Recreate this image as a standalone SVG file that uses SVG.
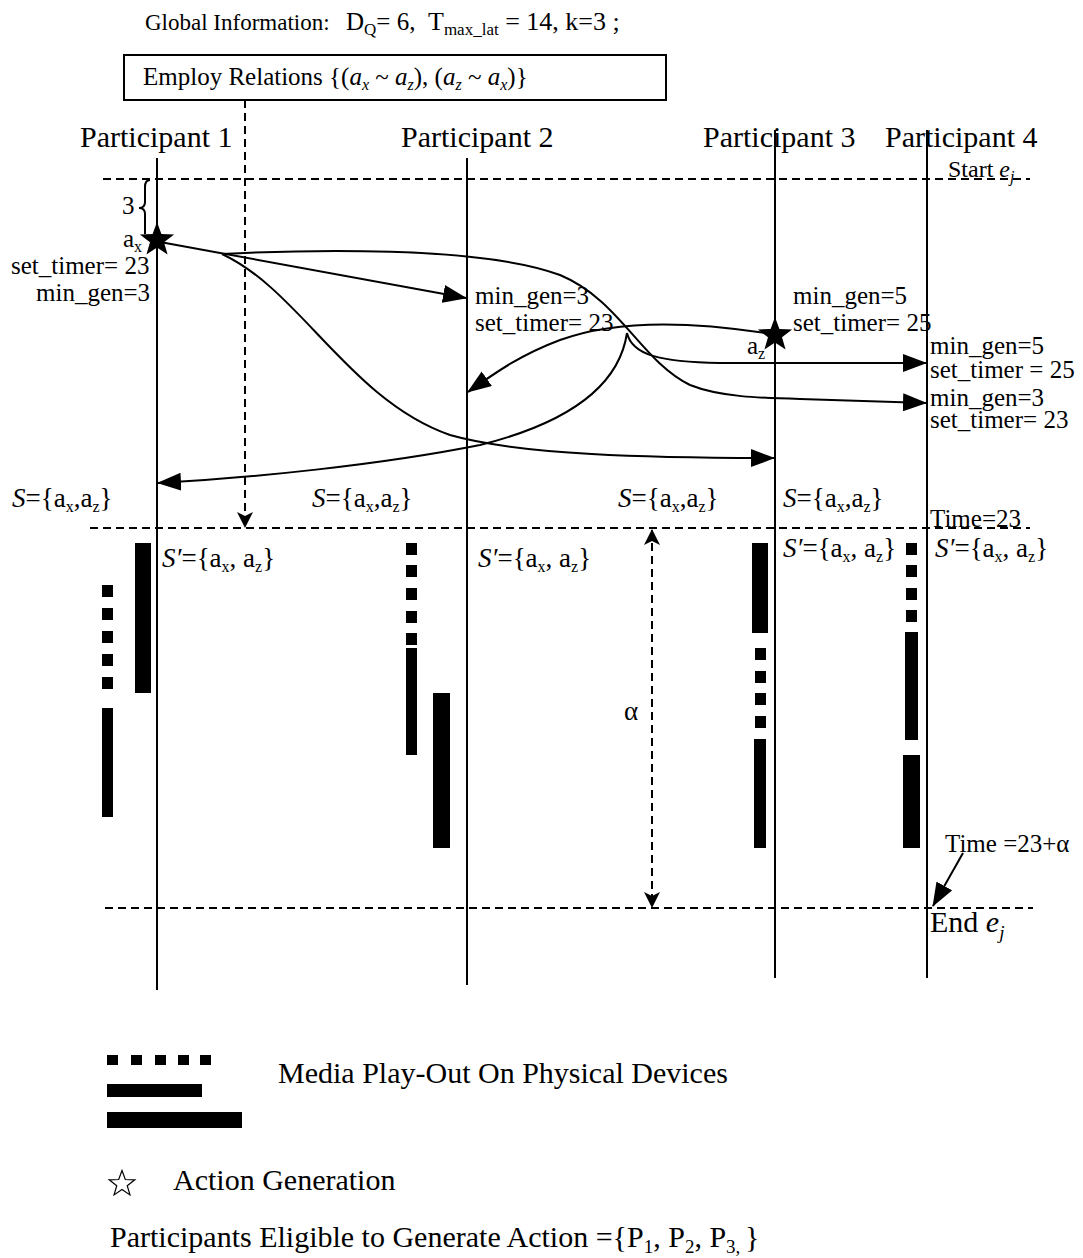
<svg xmlns="http://www.w3.org/2000/svg" xmlns:xlink="http://www.w3.org/1999/xlink" width="1083" height="1258" viewBox="0 0 1083 1258">
<style>
text{font-family:"Liberation Serif","Times New Roman",serif;fill:#000}
.t24{font-size:24px}.t25{font-size:25px}.t27{font-size:27px}.t30{font-size:30px}
.sub{font-size:16px}
.life{stroke:#000;stroke-width:2;fill:none}
.dash{stroke:#000;stroke-width:2;stroke-dasharray:8 5;fill:none}
.arr{stroke:#000;stroke-width:2;fill:none}
.bar{fill:#000}
</style>
<defs>
<marker id="ah" viewBox="0 0 24 18" refX="23" refY="9" markerWidth="24" markerHeight="18" markerUnits="userSpaceOnUse" orient="auto-start-reverse"><path d="M0,0 L24,9 L0,18 Z" fill="#000" stroke="none"/></marker>
<marker id="ahs" viewBox="0 0 16 16" refX="15" refY="8" markerWidth="16" markerHeight="16" markerUnits="userSpaceOnUse" orient="auto-start-reverse"><path d="M0,0 L16,8 L0,16 L4,8 Z" fill="#000" stroke="none"/></marker>
<path id="star" d="M0,-18 L4.4,-6 L17.12,-5.56 L7,2.3 L10.58,14.56 L0,7.4 L-10.58,14.56 L-7,2.3 L-17.12,-5.56 L-4.4,-6 Z"/>
</defs>

<g id="header">
<text x="145" y="30" font-size="23">Global Information:</text>
<text class="t25" x="346" y="30">D<tspan font-size="17" dy="5">Q</tspan><tspan dy="-5">= 6,</tspan></text>
<text x="428" y="30" font-size="26">T<tspan font-size="17" dy="5">max_lat</tspan><tspan dy="-5"> = 14, k=3 ;</tspan></text>
</g>

<g id="employ-box">
<rect x="124" y="55" width="542" height="45" fill="#fff" stroke="#000" stroke-width="2"/>
<text class="t25" x="143" y="85">Employ Relations {(<tspan font-style="italic">a</tspan><tspan class="sub" font-style="italic" dy="5">x</tspan><tspan dy="-5"> ~ </tspan><tspan font-style="italic">a</tspan><tspan class="sub" font-style="italic" dy="5">z</tspan><tspan dy="-5">), (</tspan><tspan font-style="italic">a</tspan><tspan class="sub" font-style="italic" dy="5">z</tspan><tspan dy="-5"> ~ </tspan><tspan font-style="italic">a</tspan><tspan class="sub" font-style="italic" dy="5">x</tspan><tspan dy="-5">)}</tspan></text>
</g>

<g id="participant1">
<text class="t30" x="80" y="147">Participant 1</text>
<line class="life" x1="157" y1="158" x2="157" y2="990"/>
</g>
<g id="participant2">
<text class="t30" x="401" y="147">Participant  2</text>
<line class="life" x1="467" y1="158" x2="467" y2="985"/>
</g>
<g id="participant3">
<text class="t30" x="703" y="147">Participant 3</text>
<line class="life" x1="775" y1="130" x2="775" y2="978"/>
</g>
<g id="participant4">
<text class="t30" x="885" y="147">Participant 4</text>
<line class="life" x1="927" y1="130" x2="927" y2="978"/>
</g>

<g id="time-lines">
<line class="dash" x1="103" y1="179" x2="1030" y2="179"/>
<text class="t24" x="948" y="177">Start <tspan font-style="italic">e</tspan><tspan class="sub" font-style="italic" dy="5">j</tspan></text>
<line class="dash" x1="90" y1="528" x2="1030" y2="528"/>
<text class="t25" x="930" y="527">Time=23</text>
<line class="dash" x1="105" y1="908" x2="1033" y2="908"/>
<text class="t30" x="930" y="932">End <tspan font-style="italic">e</tspan><tspan font-style="italic" dy="7" font-size="19">j</tspan></text>
</g>

<g id="action-ax">
<path class="arr" d="M150,180 Q145,180 145,187 L145,202 Q145,208 139,208 Q145,208 145,214 L145,234"/>
<text class="t25" x="122" y="214">3</text>
<use href="#star" x="157" y="240"/>
<text class="t25" x="123" y="247">a<tspan class="sub" dy="5">x</tspan></text>
<text class="t25" x="11" y="274">set_timer= 23</text>
<text class="t25" x="36" y="301">min_gen=3</text>
</g>

<g id="action-az">
<use href="#star" x="775" y="335"/>
<text class="t25" x="747" y="354">a<tspan class="sub" dy="5">z</tspan></text>
</g>

<g id="labels">
<text class="t25" x="475" y="304">min_gen=3</text>
<text class="t25" x="475" y="331">set_timer= 23</text>
<text class="t25" x="793" y="304">min_gen=5</text>
<text class="t25" x="793" y="331">set_timer= 25</text>
<text class="t25" x="930" y="354">min_gen=5</text>
<text class="t25" x="930" y="378">set_timer = 25</text>
<text class="t25" x="930" y="406">min_gen=3</text>
<text class="t25" x="930" y="428">set_timer= 23</text>
</g>

<g id="sets">
<text class="t27" x="12" y="507"><tspan font-style="italic">S</tspan>={a<tspan class="sub" dy="5">x</tspan><tspan dy="-5">,a</tspan><tspan class="sub" dy="5">z</tspan><tspan dy="-5">}</tspan></text>
<text class="t27" x="312" y="507"><tspan font-style="italic">S</tspan>={a<tspan class="sub" dy="5">x</tspan><tspan dy="-5">,a</tspan><tspan class="sub" dy="5">z</tspan><tspan dy="-5">}</tspan></text>
<text class="t27" x="618" y="507"><tspan font-style="italic">S</tspan>={a<tspan class="sub" dy="5">x</tspan><tspan dy="-5">,a</tspan><tspan class="sub" dy="5">z</tspan><tspan dy="-5">}</tspan></text>
<text class="t27" x="783" y="507"><tspan font-style="italic">S</tspan>={a<tspan class="sub" dy="5">x</tspan><tspan dy="-5">,a</tspan><tspan class="sub" dy="5">z</tspan><tspan dy="-5">}</tspan></text>
<text class="t27" x="162" y="567"><tspan font-style="italic">S′</tspan>={a<tspan class="sub" dy="5">x</tspan><tspan dy="-5">, a</tspan><tspan class="sub" dy="5">z</tspan><tspan dy="-5">}</tspan></text>
<text class="t27" x="478" y="567"><tspan font-style="italic">S′</tspan>={a<tspan class="sub" dy="5">x</tspan><tspan dy="-5">, a</tspan><tspan class="sub" dy="5">z</tspan><tspan dy="-5">}</tspan></text>
<text class="t27" x="783" y="557"><tspan font-style="italic">S′</tspan>={a<tspan class="sub" dy="5">x</tspan><tspan dy="-5">, a</tspan><tspan class="sub" dy="5">z</tspan><tspan dy="-5">}</tspan></text>
<text class="t27" x="935" y="557"><tspan font-style="italic">S′</tspan>={a<tspan class="sub" dy="5">x</tspan><tspan dy="-5">, a</tspan><tspan class="sub" dy="5">z</tspan><tspan dy="-5">}</tspan></text>
</g>

<g id="connectors">
<line class="dash" x1="245" y1="100" x2="245" y2="527" marker-end="url(#ahs)"/>
<line class="dash" x1="652" y1="530" x2="652" y2="907" marker-start="url(#ahs)" marker-end="url(#ahs)"/>
<path class="arr" d="M160,242 L466,298" marker-end="url(#ah)"/>
<path class="arr" d="M222,254 C300,250 480,245 560,275 C620,300 640,360 690,385 C720,397 760,398 800,399 L926,403" marker-end="url(#ah)"/>
<path class="arr" d="M222,254 C300,290 350,400 450,435 C520,455 650,458 774,458" marker-end="url(#ah)"/>
<path class="arr" d="M765,333 C700,323 620,318 560,340 C520,355 495,373 468,392" marker-end="url(#ah)"/>
<path class="arr" d="M627,333 C620,380 580,420 480,445 C380,465 250,478 158,483" marker-end="url(#ah)"/>
<path class="arr" d="M627,333 C632,355 660,362 720,363 L926,363" marker-end="url(#ah)"/>
<path class="arr" d="M963,853 L933,906" marker-end="url(#ah)"/>
<text class="t27" x="624" y="720">α</text>
<text class="t25" x="945" y="852">Time =23+α</text>
</g>

<g id="playout-p1">
<rect class="bar" x="135" y="543" width="16" height="150"/>
<rect class="bar" x="102" y="585" width="11" height="12"/>
<rect class="bar" x="102" y="608" width="11" height="12"/>
<rect class="bar" x="102" y="631" width="11" height="12"/>
<rect class="bar" x="102" y="654" width="11" height="12"/>
<rect class="bar" x="102" y="677" width="11" height="12"/>
<rect class="bar" x="102" y="708" width="11" height="109"/>
</g>
<g id="playout-p2">
<rect class="bar" x="406" y="543" width="11" height="12"/>
<rect class="bar" x="406" y="565" width="11" height="12"/>
<rect class="bar" x="406" y="588" width="11" height="12"/>
<rect class="bar" x="406" y="611" width="11" height="12"/>
<rect class="bar" x="406" y="633" width="11" height="12"/>
<rect class="bar" x="406" y="648" width="11" height="107"/>
<rect class="bar" x="433" y="693" width="17" height="155"/>
</g>
<g id="playout-p3">
<rect class="bar" x="752" y="543" width="16" height="90"/>
<rect class="bar" x="755" y="648" width="11" height="12"/>
<rect class="bar" x="755" y="671" width="11" height="12"/>
<rect class="bar" x="755" y="693" width="11" height="12"/>
<rect class="bar" x="755" y="716" width="11" height="12"/>
<rect class="bar" x="754" y="739" width="12" height="109"/>
</g>
<g id="playout-p4">
<rect class="bar" x="906" y="543" width="11" height="12"/>
<rect class="bar" x="906" y="565" width="11" height="12"/>
<rect class="bar" x="906" y="588" width="11" height="12"/>
<rect class="bar" x="906" y="610" width="11" height="12"/>
<rect class="bar" x="905" y="632" width="13" height="108"/>
<rect class="bar" x="903" y="755" width="17" height="93"/>
</g>

<g id="legend">
<rect class="bar" x="107" y="1055" width="11" height="10"/>
<rect class="bar" x="131" y="1055" width="11" height="10"/>
<rect class="bar" x="155" y="1055" width="11" height="10"/>
<rect class="bar" x="178" y="1055" width="11" height="10"/>
<rect class="bar" x="200" y="1055" width="11" height="10"/>
<rect class="bar" x="107" y="1084" width="95" height="13"/>
<rect class="bar" x="107" y="1112" width="135" height="16"/>
<text class="t30" x="278" y="1083">Media Play-Out On Physical Devices</text>
<use href="#star" x="122" y="1184" transform="translate(122 1184) scale(0.75) translate(-122 -1184)" fill="#fff" stroke="#000" stroke-width="1.6"/>
<text class="t30" x="173" y="1190">Action Generation</text>
<text class="t30" x="110" y="1247">Participants Eligible to Generate Action ={P<tspan font-size="19" dy="6">1</tspan><tspan dy="-6">, P</tspan><tspan font-size="19" dy="6">2</tspan><tspan dy="-6">, P</tspan><tspan font-size="19" dy="6">3, </tspan><tspan dy="-6">}</tspan></text>
</g>
</svg>
